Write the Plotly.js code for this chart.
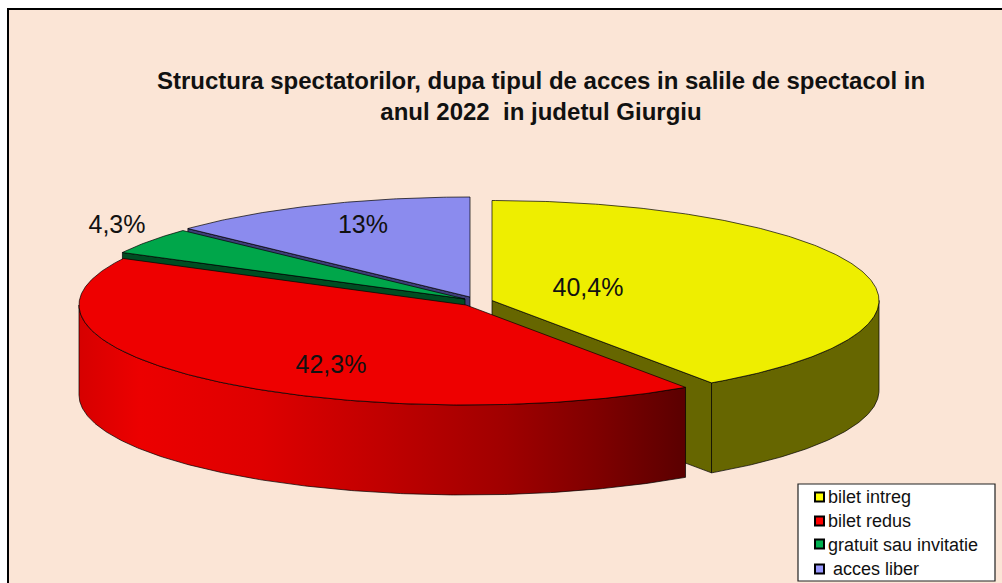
<!DOCTYPE html>
<html><head><meta charset="utf-8">
<script src="https://cdn.plot.ly/plotly-3.0.1.min.js"></script>
<style>html,body{margin:0;padding:0;background:#fff}#c{width:1002px;height:583px}</style></head>
<body><div id="c"></div>
<script>
// ---- data ----
const categories = ["bilet intreg", "bilet redus", "gratuit sau invitatie", "acces liber"];
const values = [40.4, 42.3, 4.3, 13];
const valueLabels = ["40,4%", "42,3%", "4,3%", "13%"];
const titleLines = ["Structura spectatorilor, dupa tipul de acces in salile de spectacol in", "anul 2022  in judetul Giurgiu"];

// ---- drawing geometry (axes run in picture pixels) ----
const RX = 387, RY = 100, DEPTH = 90;
const apexX = [492, 466, 465, 470];
const apexY = [300.5, 305, 299, 297];
const labelX = [588, 331, 117, 363];
const labelY = [290, 367, 227, 227];
const topColors = ["#EEEE00", "#EE0000", "#00A64A", "#8B8BEE"];
const edgeColors = ["#666600", "#B00000", "#004D22", "#3E3E78"];
const legendColors = ["#FFFF00", "#FF0000", "#00B050", "#9999FF"];
const legendY = [497, 521, 544, 569];
const legendTextY = [498, 522, 546, 570];
const legendTextX = [828, 828, 828, 828];

// cumulative slice angles, clockwise from the top
const total = values.reduce((a, b) => a + b, 0);
const starts = [], ends = [];
let acc = 0;
values.forEach(v => { starts.push(acc / total * 360); acc += v; ends.push(acc / total * 360); });

const pt = (i, deg, dy = 0) => {
  const r = deg * Math.PI / 180;
  return [apexX[i] + RX * Math.sin(r), apexY[i] - RY * Math.cos(r) + dy];
};
const arc = (i, a, b, dy = 0) => {
  const out = [], n = Math.max(2, Math.ceil(Math.abs(b - a) * 2));
  for (let k = 0; k <= n; k++) out.push(pt(i, a + (b - a) * k / n, dy));
  return out;
};
const poly = (points, name, fillcolor, extra = {}) => Object.assign({
  type: "scatter", mode: "lines", name, fill: "toself", fillcolor,
  x: points.map(p => p[0]).concat(points[0][0]),
  y: points.map(p => p[1]).concat(points[0][1]),
  line: { color: "#000", width: 0.7 }, hoverinfo: "skip", showlegend: false
}, extra);

const sliceTop = i => poly([[apexX[i], apexY[i]]].concat(arc(i, starts[i], ends[i])), categories[i], topColors[i]);
const cut = (i, deg) => {
  const e = pt(i, deg);
  return poly([[apexX[i], apexY[i]], e, [e[0], e[1] + DEPTH], [apexX[i], apexY[i] + DEPTH]], categories[i] + " (cut)", edgeColors[i]);
};
const rim = (i, a, b, extra) => poly(arc(i, a, b).concat(arc(i, b, a, DEPTH)), categories[i] + " (rim)", edgeColors[i], extra);

const redGradient = {
  type: "horizontal", start: 79, stop: 686,
  colorscale: [[0, "#D60000"], [0.1, "#EC0000"], [0.3, "#DE0000"], [0.5, "#C00000"], [0.7, "#A00000"], [0.85, "#800000"], [1, "#5A0000"]]
};

const traces = [
  cut(0, ends[0]), rim(0, 90, ends[0]), sliceTop(0),
  cut(3, starts[3]), sliceTop(3),
  cut(2, starts[2]), sliceTop(2),
  rim(1, starts[1], 270, { fillgradient: redGradient }), sliceTop(1),
  { type: "scatter", mode: "text", name: "etichete", x: labelX, y: labelY, text: valueLabels,
    textposition: "middle center", textfont: { family: "Liberation Sans", size: 25, color: "#111" },
    hoverinfo: "skip", showlegend: false },
  { type: "scatter", mode: "markers", name: "legenda simboluri", x: categories.map(() => 819.5), y: legendY,
    marker: { symbol: "square", size: 9, color: legendColors, line: { color: "#000", width: 2 } },
    hoverinfo: "skip", showlegend: false },
  { type: "scatter", mode: "text", name: "legenda", x: legendTextX, y: legendTextY,
    text: categories.map((c, i) => i === 3 ? "\u00A0" + c : c),
    textposition: "middle right", textfont: { family: "Liberation Sans", size: 18, color: "#111" },
    hoverinfo: "skip", showlegend: false }
];

const hidden = { visible: false, fixedrange: true };
const layout = {
  width: 1002, height: 583, margin: { l: 0, r: 0, t: 0, b: 0 },
  paper_bgcolor: "#fff", plot_bgcolor: "rgba(0,0,0,0)", showlegend: false,
  xaxis: Object.assign({ range: [0, 1002] }, hidden),
  yaxis: Object.assign({ range: [583, 0] }, hidden),
  title: { text: titleLines.join("<br>"), x: 541 / 1002, xanchor: "center", y: 1 - 89 / 583, yanchor: "top",
    font: { family: "Liberation Sans", size: 24, color: "#111", weight: 700 } },
  shapes: [
    { type: "rect", layer: "below", xref: "x", yref: "y", x0: 8, y0: 9, x1: 1010, y1: 590,
      fillcolor: "#FBE5D6", line: { color: "#000", width: 2 } },
    { type: "rect", layer: "below", xref: "x", yref: "y", x0: 798, y0: 484, x1: 995, y1: 581,
      fillcolor: "#FFFFFF", line: { color: "#222", width: 1.2 } }
  ]
};
Plotly.newPlot("c", traces, layout, { displayModeBar: false, staticPlot: true });
</script></body></html>
